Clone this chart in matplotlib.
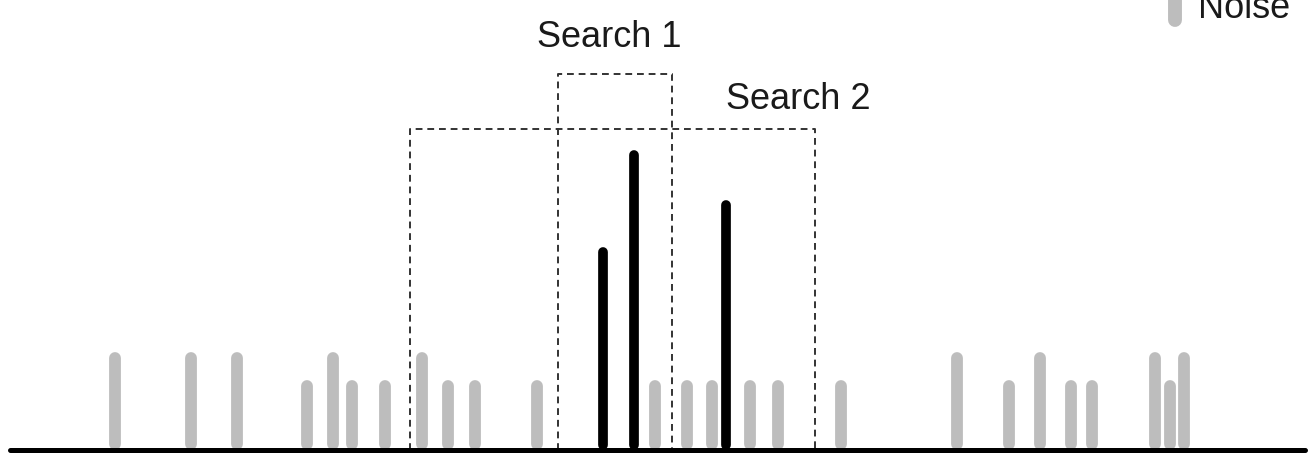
import matplotlib
matplotlib.use("Agg")
import matplotlib.pyplot as plt

plt.rcParams['font.family'] = ['Liberation Sans', 'DejaVu Sans']

# Noise peaks: positions and heights (axis units above baseline)
noise_x = [115, 191, 237, 307, 333, 352, 385, 422, 448, 475, 537, 655, 687, 712,
           750, 778, 841, 957, 1009, 1040, 1071, 1092, 1155, 1170, 1184]
noise_h = [92, 92, 92, 64, 92, 64, 64, 92, 64, 64, 64, 64, 64, 64,
           64, 64, 64, 92, 64, 92, 64, 64, 92, 64, 92]

# Signal peaks
signal_x = [603, 634, 726]
signal_h = [198, 295, 245]

# Search windows: (left, right, top)
search_labels = ["Search 1", "Search 2"]
search_left = [558, 410]
search_right = [672, 815]
search_top = [376, 321]
label_x = [609, 798]
label_y = [403, 341]

fig = plt.figure(figsize=(13.1, 4.61), dpi=100)
ax = fig.add_axes([0, 0, 1, 1])
ax.set_xlim(0, 1310)
ax.set_ylim(-11, 450)
ax.axis('off')

gray = '#bdbdbd'
for x, h in zip(noise_x, noise_h):
    ax.plot([x, x], [6, h], color=gray, lw=8.5, solid_capstyle='round', zorder=2)

for x, h in zip(signal_x, signal_h):
    ax.plot([x, x], [5, h], color='black', lw=7, solid_capstyle='round', zorder=3)

for l, r, t in zip(search_left, search_right, search_top):
    ax.plot([l, l, r, r], [0, t, t, 0], color='#333333', lw=1.4,
            ls=(0, (3.5, 2.5)), zorder=1)

for lab, x, y in zip(search_labels, label_x, label_y):
    ax.text(x, y, lab, ha='center', va='baseline', fontsize=26, color='#1a1a1a')

ax.plot([10, 1305], [0, 0], color='black', lw=3.6, solid_capstyle='round', zorder=4)

# Legend (partially cut off at top)
ax.plot([1175, 1175], [430, 480], color=gray, lw=10, solid_capstyle='round', clip_on=False)
ax.text(1198, 432, "Noise", ha='left', va='baseline', fontsize=26, color='#1a1a1a')

fig.savefig('out.png', dpi=100)
